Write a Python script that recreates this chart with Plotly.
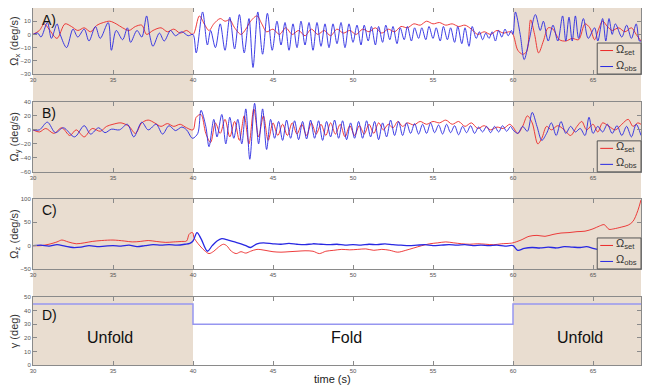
import plotly.graph_objects as go

# ---------------- data ----------------
# Panel A : Omega_x
a_set_t = [30.0, 30.4, 30.7, 31.0, 31.5, 32.0, 32.4, 32.8, 33.2, 33.6, 34.0, 34.4, 34.8, 35.2, 35.6, 36.0, 36.4, 36.8, 37.1, 37.5, 38.0, 38.4, 38.8, 39.2, 39.6, 40.0,
           40.4, 40.7, 41.0, 41.3, 41.7, 42.0, 42.3, 42.6, 43.0, 43.3, 43.6, 44.0, 44.3, 44.6, 45.0, 45.4, 45.8, 46.2, 46.6, 47.0, 47.4, 47.8, 48.2, 48.6, 49.0, 49.4, 49.8,
           50.2, 50.6, 51.0, 51.4, 51.8, 52.2, 52.6, 53.0, 53.4, 53.8, 54.2, 54.6, 55.0, 55.4, 55.8, 56.2, 56.6, 57.0, 57.4, 57.8, 58.2, 58.6, 59.0, 59.4, 59.8, 60.0,
           60.3, 60.6, 60.85, 61.1, 61.35, 61.6, 61.9, 62.2, 62.5, 62.9, 63.3, 63.7, 64.1, 64.5, 64.8, 65.1, 65.35, 65.6, 65.9, 66.2, 66.6, 67.0, 67.4, 67.7, 68.0]
a_set_v = [0, 3, 8, 4, -3, 8, 6, 3, 5, 2, 7, 9, 10, 8, 5, 3, 6, 7, 0, 3, 5, 2, 4, 1, 3, 0,
           14, 8, 3, 8, 12, 10, 11, 5, 0, 4, 10, 14, 8, 2, 4, 0, 5, 0, 3, -1, 4, 0, 3, -1, 4, 1, 3,
           0, 4, 2, 5, 1, 4, 2, 6, 5, 8, 7, 10, 8, 9, 7, 8, 6, 7, 4, 0, 2, 0, 3, 1, 2, 0,
           -12, -15, -13, 11, 0, -14, -5, 5, 4, -4, -5, -3, -4, 8, 5, -4, 4, 10, 6, 3, 5, 2, 5, 0, -5]

a_obs_t = [30.0, 30.3, 30.5, 30.9, 31.15, 31.5, 31.7, 32.1, 32.5, 32.8, 33.2, 33.5, 33.9, 34.2, 34.7, 34.9, 35.2, 35.6, 35.9, 36.1, 36.5, 36.8, 37.1, 37.3, 37.5, 37.9, 38.2, 38.6, 38.9, 39.3, 39.7, 40.0,
           40.2, 40.6, 40.9, 41.1, 41.4, 41.7, 42.0, 42.3, 42.6, 42.9, 43.2, 43.5, 43.75, 44.05, 44.35, 44.65, 44.95, 45.25, 45.5, 45.75, 46.0, 46.25, 46.5, 46.75, 47.0, 47.25, 47.5, 47.75,
           48.0, 48.25, 48.5, 48.75, 49.0, 49.25, 49.5, 49.75, 50.0, 50.25, 50.5, 50.7, 50.95, 51.15, 51.4, 51.6, 51.85, 52.05, 52.3, 52.5, 52.75, 52.95, 53.2, 53.4, 53.65, 53.85,
           54.1, 54.3, 54.55, 54.75, 55.0, 55.2, 55.45, 55.65, 55.9, 56.1, 56.35, 56.55, 56.8, 57.0, 57.25, 57.45, 57.7, 57.9, 58.1, 58.3, 58.5, 58.7, 58.9, 59.1, 59.3, 59.5, 59.7, 59.9, 60.0,
           60.15, 60.45, 60.7, 61.0, 61.4, 61.7, 61.9, 62.2, 62.5, 62.8, 63.1, 63.3, 63.5, 63.7, 63.9, 64.1, 64.4, 64.7, 65.1, 65.3, 65.6, 65.8, 66.0, 66.2, 66.4, 66.8, 67.1, 67.4, 67.7, 67.9, 68.0]
a_obs_v = [0, 1, -2, 9, -3, 8, 0, -10, 4, -2, 4, -5, 6, -3, 9, -12, 3, -4, 5, -6, 3, -2, 14, -1, -9, 1, -5, 3, -1, 2, -1, 0,
           -14, 17, -8, 3, -10, 8, -12, 13, -11, 15, -14, 12, -25, 17, -15, 16, -12, 10, -8, 9, -12, 8, -10, 10, -8, 9, -12, 9,
           -9, 8, -10, 8, -7, 9, -10, 8, -6, 7, -8, 7, -5, 6, -8, 6, -6, 7, -4, 6, -7, 5, -4, 6, -5, 5,
           -3, 5, -4, 6, -3, 5, -5, 6, -4, 5, -6, 6, -7, 5, -9, 6, -3, 2, -4, 1, -3, 2, -5, 3, -2, 4, -1, 3, 0,
           17, 0, -19, -5, 15, 3, 10, -5, 7, -5, 14, -5, 13, -5, 14, -3, 12, -3, 5, -5, 12, -5, 12, 0, 8, -2, 7, -3, 8, -5, -5]

# Panel B : Omega_y
b_set_t = [30.0, 30.4, 30.8, 31.3, 31.8, 32.3, 32.7, 33.2, 33.7, 34.2, 34.6, 35.0, 35.5, 36.0, 36.4, 36.8, 37.2, 37.6, 38.0, 38.4, 38.8, 39.2, 39.6, 40.0,
           40.2, 40.5, 40.8, 41.1, 41.4, 41.7, 42.0, 42.3, 42.6, 42.9, 43.2, 43.5, 43.8, 44.1, 44.4, 44.7, 45.0, 45.3, 45.6, 45.9, 46.2, 46.5, 46.8, 47.1, 47.4, 47.7,
           48.0, 48.3, 48.6, 48.9, 49.2, 49.5, 49.8, 50.1, 50.4, 50.7, 51.0, 51.3, 51.6, 51.9, 52.2, 52.5, 52.8, 53.1, 53.4, 53.8, 54.2, 54.6, 55.0, 55.4, 55.8,
           56.2, 56.6, 57.0, 57.4, 57.8, 58.2, 58.6, 59.0, 59.4, 59.8, 60.0,
           60.3, 60.6, 60.9, 61.2, 61.55, 61.8, 62.1, 62.4, 62.8, 63.2, 63.6, 64.0, 64.3, 64.6, 65.0, 65.3, 65.6, 66.0, 66.4, 66.8, 67.2, 67.5, 67.8, 68.0]
b_set_v = [0, -3, 2, -5, 3, -8, 0, -10, 2, -2, 5, 8, 10, 5, -5, 10, 14, 10, 5, 9, 5, 8, 3, 0,
           18, 22, -5, -18, 10, -5, 15, -10, 12, -15, 20, -20, 30, -10, 20, -15, 10, -8, 8, -8, 10, -6, 8, -8, 10, -6,
           8, -8, 10, -6, 8, -10, 6, -8, 6, -6, 8, -5, 10, 0, 8, 3, 12, 5, 10, 7, 12, 8, 12, 10, 14,
           8, 12, 5, 10, 2, 6, 0, 4, 2, 8, 4,
           -5, 5, 20, 10, -20, -12, 5, 0, 6, 0, -8, 5, 12, 0, 8, -3, 10, 5, 0, 8, 15, 5, 10, 8]

b_obs_t = [30.0, 30.4, 30.9, 31.4, 31.9, 32.6, 33.2, 33.6, 34.1, 34.5, 34.9, 35.4, 35.9, 36.3, 36.8, 37.2, 37.7, 38.1, 38.5, 38.9, 39.3, 39.6, 39.9, 40.0,
           40.3, 40.5, 40.8, 41.0, 41.3, 41.5, 41.8, 42.05, 42.3, 42.55, 42.8, 43.05, 43.3, 43.55, 43.85, 44.1, 44.35, 44.6, 44.85, 45.1, 45.35, 45.6, 45.85, 46.1, 46.35, 46.6,
           46.85, 47.1, 47.35, 47.6, 47.85, 48.1, 48.35, 48.6, 48.85, 49.1, 49.35, 49.6, 49.85, 50.1, 50.35, 50.6, 50.85, 51.1, 51.35, 51.6, 51.85, 52.1, 52.35, 52.6, 52.85,
           53.1, 53.35, 53.6, 53.85, 54.1, 54.35, 54.6, 54.85, 55.1, 55.35, 55.6, 55.85, 56.1, 56.35, 56.6, 56.85, 57.1, 57.35, 57.6, 57.85, 58.1, 58.35, 58.6, 58.85,
           59.1, 59.35, 59.6, 59.85, 60.0,
           60.3, 60.6, 60.9, 61.2, 61.5, 61.8, 62.1, 62.4, 62.7, 63.0, 63.3, 63.6, 63.9, 64.2, 64.5, 64.75, 65.0, 65.3, 65.6, 65.9, 66.2, 66.5, 66.8, 67.1, 67.4, 67.7, 68.0]
b_obs_v = [0, 0, 11, -4, 3, -10, 6, -6, 3, -4, 1, 0, 8, -10, 11, 0, 8, -6, 6, -1, 4, 0, -11, -12,
           -5, 28, 5, -24, 15, -10, 22, -20, 18, -12, 15, -20, 30, -42, 38, -20, 30, -28, 15, -12, 12, -15, 14, -12, 13, -14,
           12, -13, 14, -12, 13, -15, 12, -10, 14, -12, 13, -14, 10, -12, 12, -12, 13, -10, 12, -14, 10, -10, 14, -8, 12,
           -8, 10, -5, 9, -6, 8, -5, 10, -4, 7, -6, 8, -4, 6, -7, 5, -4, 6, -5, 4, -3, 5, -4, 5,
           -3, 6, -2, 5, 0,
           -5, 5, -2, 25, 5, -15, -5, 10, -8, 12, -5, 5, -3, 2, -8, 18, -5, 5, -3, 8, -5, 6, -8, 5, -10, 8, -8]

# Panel C : Omega_z
c_set_t = [30.0, 30.5, 31.0, 31.5, 31.8, 32.2, 32.7, 33.2, 33.7, 34.3, 35.0, 35.7, 36.2, 36.7, 37.2, 37.7, 38.3, 38.8, 39.3, 39.6, 39.75, 39.9, 40.0,
           40.05, 40.3, 40.7, 41.0, 41.3, 41.6, 41.9, 42.1, 42.4, 42.7, 43.0, 43.3, 43.6, 44.0, 44.5, 45.0, 45.5, 46.0, 46.5, 47.0, 47.5, 47.9, 48.3, 48.8,
           49.3, 49.8, 50.3, 50.8, 51.3, 51.8, 52.3, 52.8, 53.3, 53.8, 54.3, 54.8, 55.3, 55.8, 56.3, 56.8, 57.3, 57.8, 58.3, 58.8, 59.3, 59.8, 60.0,
           60.5, 61.0, 61.5, 62.0, 62.5, 63.0, 63.5, 64.0, 64.5, 65.0, 65.4, 65.7, 66.0, 66.3, 66.8, 67.2, 67.5, 67.8, 68.0]
c_set_v = [0, 0, 3, 8, 12, 8, 4, 6, 9, 11, 12, 10, 8, 9, 11, 9, 7, 8, 9, 10, 24, 28, 27,
           18, 5, -10, -17, -12, -3, 3, 0, -12, -17, -13, -16, -12, -8, -10, -13, -14, -13, -12, -11, -12, -17, -12, -10,
           -8, -9, -8, -7, -10, -8, -10, -14, -10, -5, 0, 4, 6, 8, 6, 4, 3, 4, 3, 2, 4, 5, 6,
           12, 20, 22, 20, 24, 27, 28, 30, 31, 36, 42, 45, 35, 36, 40, 44, 52, 75, 98]

c_obs_t = [30.0, 30.5, 31.0, 31.5, 32.0, 32.5, 33.0, 33.5, 34.0, 34.5, 35.0, 35.5, 36.0, 36.5, 37.0, 37.5, 38.0, 38.5, 39.0, 39.5, 39.8, 40.0,
           40.25, 40.5, 40.9, 41.2, 41.5, 41.8, 42.2, 42.6, 43.0, 43.3, 43.6, 44.0, 44.4, 45.0, 45.5, 46.0, 46.5, 47.0, 47.5, 48.0, 48.5, 49.0, 49.5,
           50.0, 50.5, 51.0, 51.5, 52.0, 52.5, 53.0, 53.5, 54.0, 54.5, 55.0, 55.5, 56.0, 56.5, 57.0, 57.5, 58.0, 58.5, 59.0, 59.5, 60.0,
           60.3, 60.7, 61.2, 61.7, 62.2, 62.7, 63.2, 63.7, 64.2, 64.6, 65.0, 65.3, 65.6, 66.0, 66.5, 67.0, 67.5, 68.0]
c_obs_v = [0, 1, -1, 2, -1, -4, -3, 0, -2, -1, 0, -1, 1, -2, 0, 2, 1, 2, 1, 3, 5, 10,
           28, 15, -12, 0, 10, 15, 12, 8, 4, 0, -4, 4, 6, 4, 3, 5, 3, 2, 4, 3, 2, 3, 1,
           2, 1, 3, 2, 4, 2, 1, 0, 1, 2, 0, 1, 2, 1, 2, 0, 1, 0, 1, -1, 0,
           -10, -6, -4, -5, -3, -5, -2, -3, -4, -2, -6, -8, -5, -4, -6, -3, -5, -4]

# Panel D : gamma
d_t = [30, 40, 40, 60, 60, 68]
d_v = [45, 45, 30, 30, 45, 45]

# phases
phase_spans = [(30, 40), (60, 68)]
phase_labels = ["Unfold", "Fold", "Unfold"]
phase_label_x = [34.8, 49.6, 64.2]
phase_label_y = 20

series_names = ["Ω<sub>set</sub>", "Ω<sub>obs</sub>"]

RED = "rgb(236,40,40)"
BLUE = "rgb(40,40,226)"
TAN = "#E9DDD0"
FONT = "Liberation Sans, Arial, sans-serif"

fig = go.Figure()

panels = [
    ("", a_set_t, a_set_v, a_obs_t, a_obs_v),
    ("2", b_set_t, b_set_v, b_obs_t, b_obs_v),
    ("3", c_set_t, c_set_v, c_obs_t, c_obs_v),
]
for sfx, st, sv, ot, ov in panels:
    fig.add_trace(go.Scatter(x=st, y=sv, mode="lines", name=series_names[0], showlegend=False,
                             line=dict(color=RED, width=0.9, shape="spline", smoothing=0.9),
                             xaxis="x" + sfx, yaxis="y" + sfx))
    fig.add_trace(go.Scatter(x=ot, y=ov, mode="lines", name=series_names[1], showlegend=False,
                             line=dict(color=BLUE, width=1.3 if sfx == "3" else 0.9, shape="spline", smoothing=0.9),
                             xaxis="x" + sfx, yaxis="y" + sfx))

fig.add_trace(go.Scatter(x=d_t, y=d_v, mode="lines", line=dict(color="rgb(150,150,240)", width=1.5),
                         xaxis="x4", yaxis="y4", showlegend=False))

# page body has an 8px margin: figure is sized to fit the window from (8, 8)
PLOT_H = 357.0
domains = [[0.815, 1.0], [0.541, 0.737], [0.269, 0.465], [0.0, 0.190]]
yranges = [[-30, 20], [-60, 40], [-50, 100], [0, 50]]
ydticks = [10, 20, 50, 10]
ytitles = ["Ω<sub>x</sub> (deg/s)", "Ω<sub>y</sub> (deg/s)", "Ω<sub>z</sub> (deg/s)", "γ (deg)"]
panel_tags = ["A)", "B)", "C)", "D)"]
tag_y = [0.97, 0.985, 0.985, 0.88]

axcommon = dict(showline=True, linecolor="#8a8a8a", linewidth=1, mirror="ticks", ticks="inside",
                ticklen=4, tickcolor="#8a8a8a", showgrid=False, zeroline=False, automargin=False,
                tickfont=dict(size=6, color="#555", family=FONT))
layout = dict(width=656, height=377, margin=dict(l=25, r=23, t=0, b=20),
              paper_bgcolor="white", plot_bgcolor="rgba(0,0,0,0)", font=dict(family=FONT),
              showlegend=False)
for i in range(4):
    sfx = "" if i == 0 else str(i + 1)
    xa = dict(axcommon, domain=[0, 1], anchor="y" + sfx, range=[30, 68], tick0=30, dtick=5)
    if i > 0:
        xa["matches"] = "x"
    ya = dict(axcommon, domain=domains[i], anchor="x" + sfx, range=yranges[i], tick0=0, dtick=ydticks[i],
              title=dict(text=ytitles[i], font=dict(size=11, color="#333"), standoff=3))
    layout["xaxis" + sfx] = xa
    layout["yaxis" + sfx] = ya

fig.update_layout(**layout)

for x0, x1 in phase_spans:
    fig.add_shape(type="rect", xref="x4", yref="paper", x0=x0, x1=x1, y0=0, y1=1.03,
                  fillcolor=TAN, line=dict(width=0), layer="below")

# legend boxes (one per signal panel), opaque, at each panel's lower right
for i in range(3):
    base = domains[i][0]
    fig.add_shape(type="rect", xref="paper", yref="paper", x0=0.928, x1=1.0, y0=base, y1=base + 31 / PLOT_H,
                  line=dict(color="#555", width=1), fillcolor=TAN, layer="above")
    for k, (col, ypx) in enumerate([(RED, 23.5), (BLUE, 7.5)]):
        yy = base + ypx / PLOT_H
        fig.add_shape(type="line", xref="paper", yref="paper", x0=0.933, x1=0.954, y0=yy, y1=yy,
                      line=dict(color=col, width=1), layer="above")
        fig.add_annotation(text=series_names[k], xref="paper", yref="paper", x=0.956, y=yy + 1 / PLOT_H,
                           xanchor="left", yanchor="middle", showarrow=False,
                           font=dict(size=11, color="#333", family=FONT))

for i, tag in enumerate(panel_tags):
    sfx = "" if i == 0 else str(i + 1)
    fig.add_annotation(text=tag, xref="x" + sfx + " domain", yref="y" + sfx + " domain",
                       x=0.012, y=tag_y[i], xanchor="left", yanchor="top", showarrow=False,
                       font=dict(size=14, color="#111", family=FONT))

for lx, lt in zip(phase_label_x, phase_labels):
    fig.add_annotation(text=lt, x=lx, y=phase_label_y, xref="x4", yref="y4", showarrow=False,
                       font=dict(size=16, color="#111", family=FONT))

fig.add_annotation(text="time (s)", x=0.493, y=0, xref="paper", yref="paper", yanchor="middle",
                   yshift=-14, showarrow=False, font=dict(size=11, color="#222", family=FONT))

fig.write_html("out.html")
